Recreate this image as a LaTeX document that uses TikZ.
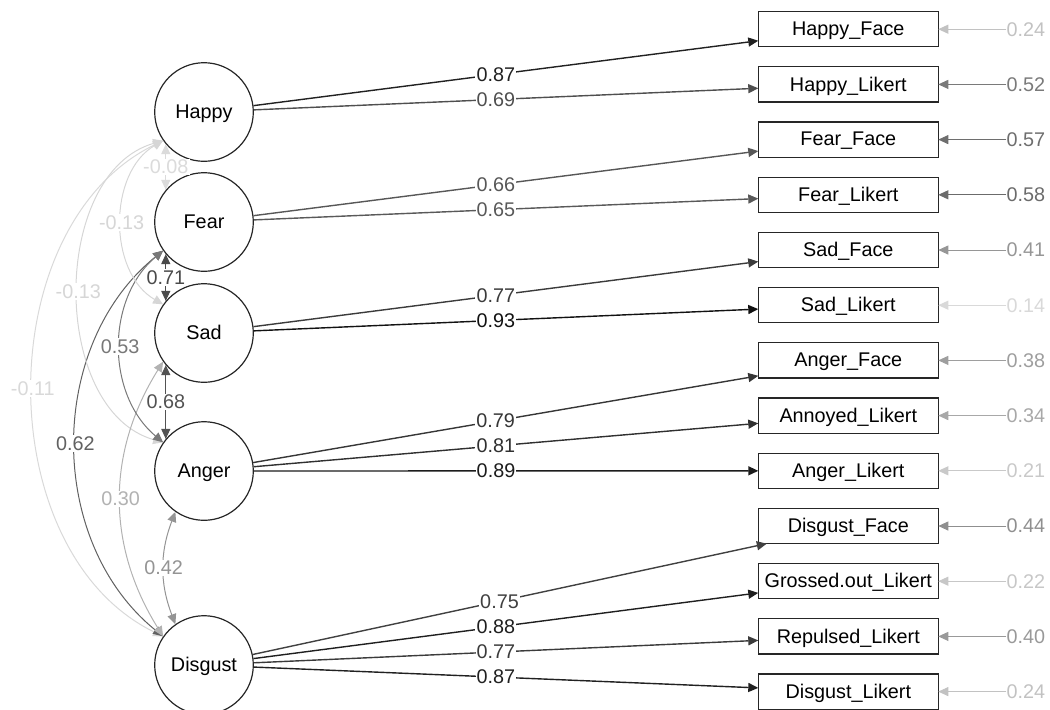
\documentclass[tikz,border=0pt]{standalone}
\usepackage{fontspec}
\setmainfont{Liberation Sans}
\usetikzlibrary{arrows.meta,positioning}

\tikzstyle{latent} = [draw=black!85, fill=white, line width=0.6pt,
    circle, minimum size=49.3pt, inner sep=0pt, text depth=0.5pt]
\tikzstyle{manifest} = [draw=black!85, fill=white, line width=0.6pt,
    rectangle, minimum width=90pt, minimum height=17.6pt, inner sep=0pt,
    outer sep=0pt, text depth=0.5pt]
\tikzstyle{loading} = [line width=0.7pt, -{Triangle[length=5pt,width=4.5pt]}]
\tikzstyle{resid} = [line width=0.5pt, -{Triangle[length=5pt,width=4.5pt]}]
\tikzstyle{covar} = [line width=0.5pt,
    {Triangle[length=5pt,width=4.5pt]}-{Triangle[length=5pt,width=4.5pt]}]
\tikzstyle{elabel} = [fill=white, inner sep=0.6pt]
\tikzstyle{rlabel} = [inner sep=0pt]

\begin{document}
\begin{tikzpicture}[x=0.5pt, y=-0.5pt, font=\fontsize{9.9}{11}\selectfont]
\useasboundingbox (0,0) rectangle (1050,709);

% latent factors
\node[latent] (Happy) at (204,112) {Happy};
\node[latent] (Fear) at (204,222) {Fear};
\node[latent] (Sad) at (204,333) {Sad};
\node[latent] (Anger) at (204,471) {Anger};
\node[latent] (Disgust) at (204,665) {Disgust};

% indicators
\node[manifest] (HF) at (848.3,29.2) {Happy\_Face};
\node[manifest, below=10pt of HF] (HL) {Happy\_Likert};
\node[manifest, below=10pt of HL] (FF) {Fear\_Face};
\node[manifest, below=10pt of FF] (FL) {Fear\_Likert};
\node[manifest, below=10pt of FL] (SF) {Sad\_Face};
\node[manifest, below=10pt of SF] (SL) {Sad\_Likert};
\node[manifest, below=10pt of SL] (AF) {Anger\_Face};
\node[manifest, below=10pt of AF] (AnL) {Annoyed\_Likert};
\node[manifest, below=10pt of AnL] (AL) {Anger\_Likert};
\node[manifest, below=10pt of AL] (DF) {Disgust\_Face};
\node[manifest, below=10pt of DF] (GL) {Grossed.out\_Likert};
\node[manifest, below=10pt of GL] (RL) {Repulsed\_Likert};
\node[manifest, below=10pt of RL] (DL) {Disgust\_Likert};

% residual variances
\node[rlabel, right=34pt of HF, text=black!24] (eHF) {0.24};
\node[rlabel, right=34pt of HL, text=black!52] (eHL) {0.52};
\node[rlabel, right=34pt of FF, text=black!57] (eFF) {0.57};
\node[rlabel, right=34pt of FL, text=black!58] (eFL) {0.58};
\node[rlabel, right=34pt of SF, text=black!41] (eSF) {0.41};
\node[rlabel, right=34pt of SL, text=black!15] (eSL) {0.14};
\node[rlabel, right=34pt of AF, text=black!38] (eAF) {0.38};
\node[rlabel, right=34pt of AnL, text=black!34] (eAnL) {0.34};
\node[rlabel, right=34pt of AL, text=black!21] (eAL) {0.21};
\node[rlabel, right=34pt of DF, text=black!44] (eDF) {0.44};
\node[rlabel, right=34pt of GL, text=black!22] (eGL) {0.22};
\node[rlabel, right=34pt of RL, text=black!40] (eRL) {0.40};
\node[rlabel, right=34pt of DL, text=black!24] (eDL) {0.24};

\draw[resid, black!24] (eHF) -- (HF);
\draw[resid, black!52] (eHL) -- (HL);
\draw[resid, black!57] (eFF) -- (FF);
\draw[resid, black!58] (eFL) -- (FL);
\draw[resid, black!41] (eSF) -- (SF);
\draw[resid, black!15] (eSL) -- (SL);
\draw[resid, black!38] (eAF) -- (AF);
\draw[resid, black!34] (eAnL) -- (AnL);
\draw[resid, black!21] (eAL) -- (AL);
\draw[resid, black!44] (eDF) -- (DF);
\draw[resid, black!22] (eGL) -- (GL);
\draw[resid, black!40] (eRL) -- (RL);
\draw[resid, black!24] (eDL) -- (DL);

% loadings
\draw[loading, black!87] (Happy) -- node[elabel, pos=0.48] {0.87} (HF);
\draw[loading, black!69] (Happy) -- node[elabel, pos=0.48] {0.69} (HL);
\draw[loading, black!66] (Fear) -- node[elabel, pos=0.48] {0.66} (FF);
\draw[loading, black!65] (Fear) -- node[elabel, pos=0.48] {0.65} (FL);
\draw[loading, black!77] (Sad) -- node[elabel, pos=0.48] {0.77} (SF);
\draw[loading, black!93] (Sad) -- node[elabel, pos=0.48] {0.93} (SL);
\draw[loading, black!79] (Anger) -- node[elabel, pos=0.48] {0.79} (AF);
\draw[loading, black!81] (Anger) -- node[elabel, pos=0.48] {0.81} (AnL);
\draw[loading, black!89] (Anger) -- node[elabel, pos=0.48] {0.89} (AL);
\draw[loading, black!75] (Disgust) -- node[elabel, pos=0.48] {0.75} (DF);
\draw[loading, black!88] (Disgust) -- node[elabel, pos=0.48] {0.88} (GL);
\draw[loading, black!77] (Disgust) -- node[elabel, pos=0.48] {0.77} (RL);
\draw[loading, black!87] (Disgust) -- node[elabel, pos=0.48] {0.87} (DL);

% factor covariances
\draw[covar, black!15] (Happy.215) to[bend right=64] node[elabel] {-0.11} (Disgust.145);
\draw[covar, black!62] (Fear.215) to[bend right=51] node[elabel] {0.62} (Disgust.145);
\draw[covar, black!16] (Happy.215) to[bend right=74] node[elabel] {-0.13} (Anger.145);
\draw[covar, black!30] (Sad.215) to[bend right=32] node[elabel] {0.30} (Disgust.145);
\draw[covar, black!53] (Fear.215) to[bend right=50] node[elabel] {0.53} (Anger.145);
\draw[covar, black!16] (Happy.215) to[bend right=60] node[elabel] {-0.13} (Sad.145);
\draw[covar, black!14] (Happy.220) -- node[elabel] {-0.08} (Fear.140);
\draw[covar, black!71] (Fear.220) -- node[elabel] {0.71} (Sad.140);
\draw[covar, black!68] (Sad.220) -- node[elabel] {0.68} (Anger.140);
\draw[covar, black!42] (Anger.235) to[bend right=21] node[elabel] {0.42} (Disgust.125);
\end{tikzpicture}
\end{document}
